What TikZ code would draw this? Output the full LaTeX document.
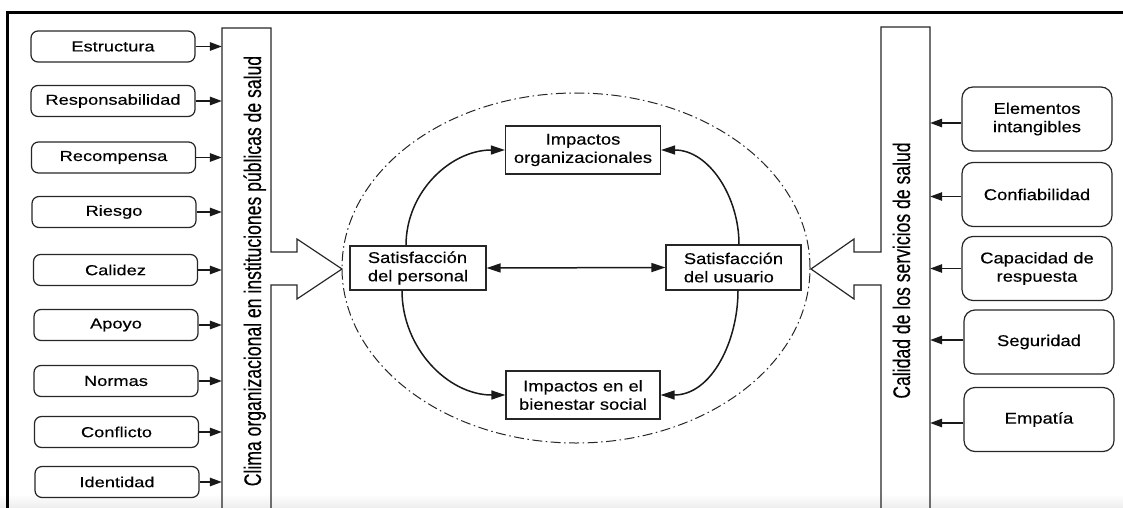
\documentclass[tikz,border=0pt]{standalone}
\usepackage{fontspec}
\setmainfont{Liberation Sans}
\newfontfamily\lfont[FakeStretch=1.26,FakeBold=0.3]{Liberation Sans}
\newfontfamily\mfont[FakeStretch=1.18,FakeBold=0.3]{Liberation Sans}
\newfontfamily\vfont[FakeBold=0.3]{Liberation Sans}
\usetikzlibrary{arrows.meta,shapes.geometric}

\begin{document}
\begin{tikzpicture}[x=1pt,y=-1pt,
  ink/.style={draw=black!85, line width=1.2pt},
  lbox/.style={ink, rounded corners=7pt, minimum width=164pt, minimum height=31pt,
    inner sep=0pt, font=\lfont\fontsize{14.5}{17}\selectfont},
  rbox/.style={ink, rounded corners=11pt, minimum width=150pt, minimum height=64pt,
    inner sep=0pt, align=center, font=\mfont\fontsize{15.6}{18.3}\selectfont},
  cbox/.style={ink, inner sep=0pt, font=\mfont\fontsize{15.6}{18.3}\selectfont},
  bar/.style={minimum width=49pt, minimum height=482pt, inner sep=0pt},
  barlabel/.style={inner sep=0pt, anchor=base, rotate=90},
  feed/.style={draw=black!90, line width=1.4pt, -{Triangle[length=12pt,width=8.5pt]}},
  link/.style={draw=black!90, line width=1.5pt, -{Triangle[length=14pt,width=9pt]}},
  zone/.style={draw=black!85, line width=1pt, ellipse, inner sep=0pt,
    dash pattern=on 10pt off 3.5pt on 1.5pt off 3.5pt},
]
\useasboundingbox (0,0) rectangle (1123,508);
\clip (0,0) rectangle (1123,508);

% faint band along the lower edge
\shade[top color=white, bottom color=black!7] (0,494) rectangle (1123,508);

% heavy frame on the top and left
\draw[line width=3pt] (7.5,508) -- (7.5,13) -- (1123,13);

% ---- left column: dimensions of organizational climate ----
\node[bar] (clima) at (246.5,269) {};
\draw[ink, line join=miter] (222,510) -- (222,28) -- (271,28) -- (271,252) -- (297,252)
  -- (297,239) -- (342,269) -- (297,299) -- (297,285) -- (271,285) -- (271,510);
\node[barlabel] (climatext) at (261,271)
  {\scalebox{1.1}[1.5]{\vfont\fontsize{16}{16}\selectfont Clima organizacional en instituciones públicas de salud}};

\node[lbox] (estr) at (113,46.5) {Estructura};
\node[lbox] (resp) at (113,101) {Responsabilidad};
\node[lbox] (reco) at (113.5,157.5) {Recompensa};
\node[lbox] (ries) at (114,212) {Riesgo};
\node[lbox] (cali) at (115.5,270) {Calidez};
\node[lbox] (apoy) at (116,325) {Apoyo};
\node[lbox] (norm) at (116,381) {Normas};
\node[lbox] (conf) at (116.5,432) {Conflicto};
\node[lbox] (iden) at (117,482) {Identidad};

\foreach \b in {estr,resp,reco,ries,cali,apoy,norm,conf,iden}
  \draw[feed] (\b.east) -- (\b.east -| clima.west);

% ---- right column: dimensions of service quality ----
\node[bar] (calidad) at (905.5,268.5) {};
\draw[ink, line join=miter] (930,510) -- (930,27) -- (881,27) -- (881,252) -- (854,252)
  -- (854,239) -- (811,269) -- (854,299) -- (854,285) -- (881,285) -- (881,510);
\node[barlabel] (calidadtext) at (910,270.5)
  {\scalebox{1.1}[1.5]{\vfont\fontsize{16}{16}\selectfont Calidad de los servicios de salud}};

\node[rbox] (elem) at (1037,119) {Elementos\\intangibles};
\node[rbox] (fiab) at (1037,194.5) {Confiabilidad};
\node[rbox] (capa) at (1037,268.5) {Capacidad de\\respuesta};
\node[rbox] (segu) at (1039,342) {Seguridad};
\node[rbox] (empa) at (1039,419.5) {Empatía};

\draw[feed] ([yshift=-4pt]elem.west) -- ([yshift=-4pt]elem.west -| calidad.east);
\draw[feed] ([yshift=-2pt]fiab.west) -- ([yshift=-2pt]fiab.west -| calidad.east);
\draw[feed] (capa.west) -- (capa.west -| calidad.east);
\draw[feed] ([yshift=2pt]segu.west) -- ([yshift=2pt]segu.west -| calidad.east);
\draw[feed] ([yshift=-3.5pt]empa.west) -- ([yshift=-3.5pt]empa.west -| calidad.east);

% ---- centre: satisfaction and impacts ----
\node[zone, minimum width=468pt, minimum height=350pt] (area) at (576,268) {};

\node[cbox, align=center, minimum width=155pt, minimum height=48pt] (org) at (583,150)
  {Impactos\\organizacionales};
\node[cbox, align=left, minimum width=136pt, minimum height=44pt] (pers) at (418,268)
  {Satisfacción\\del personal};
\node[cbox, align=left, minimum width=135pt, minimum height=45pt] (usu) at (733.5,267.5)
  {Satisfacción\\del usuario};
\node[cbox, align=center, minimum width=154pt, minimum height=48pt] (bien) at (583,395)
  {Impactos en el\\bienestar social};

\draw[link, {Triangle[length=14pt,width=9pt]}-{Triangle[length=14pt,width=9pt]}]
  (pers.east) -- (usu.west);
\draw[link] ([xshift=-12pt]pers.north) to[out=90, in=180] (org.west);
\draw[link] ([xshift=5.5pt]usu.north) to[out=90, in=0] (org.east);
\draw[link] ([xshift=-16pt]pers.south) to[out=-90, in=180] (bien.west);
\draw[link] ([xshift=4.5pt]usu.south) to[out=-90, in=0] (bien.east);
\end{tikzpicture}
\end{document}
